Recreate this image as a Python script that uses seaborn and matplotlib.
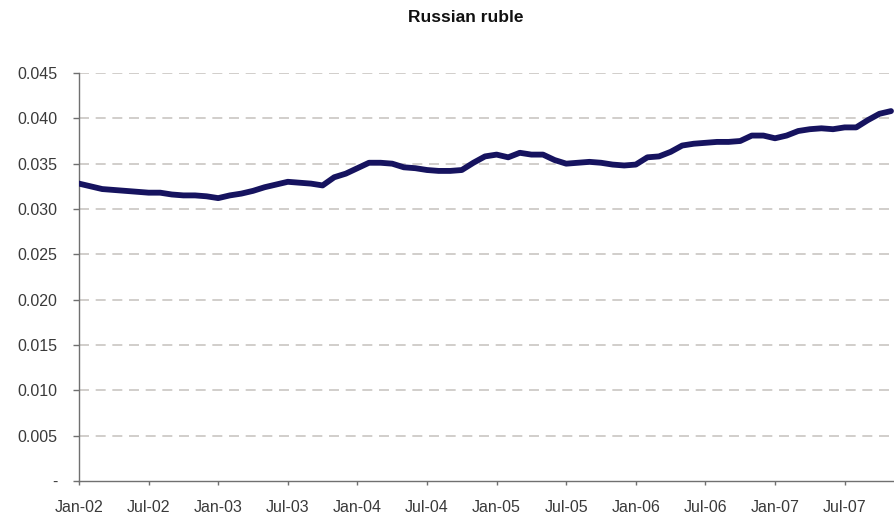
import matplotlib
matplotlib.use("Agg")
import matplotlib.pyplot as plt
import seaborn as sns
import pandas as pd
import numpy as np

title = "Russian ruble"
month_index = list(range(71))  # months since Jan-02
values = [
    0.0328, 0.0325, 0.0322, 0.0321, 0.0320, 0.0319, 0.0318, 0.0318, 0.0316, 0.0315,
    0.0315, 0.0314, 0.0312, 0.0315, 0.0317, 0.0320, 0.0324, 0.0327, 0.0330, 0.0329,
    0.0328, 0.0326, 0.0335, 0.0339, 0.0345, 0.0351, 0.0351, 0.0350, 0.0346, 0.0345,
    0.0343, 0.0342, 0.0342, 0.0343, 0.0351, 0.0358, 0.0360, 0.0357, 0.0362, 0.0360,
    0.0360, 0.0354, 0.0350, 0.0351, 0.0352, 0.0351, 0.0349, 0.0348, 0.0349, 0.0357,
    0.0358, 0.0363, 0.0370, 0.0372, 0.0373, 0.0374, 0.0374, 0.0375, 0.0381, 0.0381,
    0.0378, 0.0381, 0.0386, 0.0388, 0.0389, 0.0388, 0.0390, 0.0390, 0.0398, 0.0405,
    0.0408,
]
x_tick_pos = [0, 6, 12, 18, 24, 30, 36, 42, 48, 54, 60, 66]
x_tick_labels = ["Jan-02", "Jul-02", "Jan-03", "Jul-03", "Jan-04", "Jul-04",
                 "Jan-05", "Jul-05", "Jan-06", "Jul-06", "Jan-07", "Jul-07"]
y_tick_pos = [0, 0.005, 0.010, 0.015, 0.020, 0.025, 0.030, 0.035, 0.040, 0.045]
y_tick_labels = ["-", "0.005", "0.010", "0.015", "0.020", "0.025",
                 "0.030", "0.035", "0.040", "0.045"]

df = pd.DataFrame({"m": month_index, "v": values})

sns.set_theme(style="white")
plt.rcParams["font.family"] = ["Liberation Sans", "DejaVu Sans"]

W, H = 894, 522
fig = plt.figure(figsize=(W / 100, H / 100), dpi=100)
ax = fig.add_axes([79 / W, 1 - 481 / H, (W - 79) / W, (481 - 73) / H])

for yv in y_tick_pos[1:]:
    ax.axhline(yv, color="#cac6c2", lw=1.2, ls=(0, (6, 4)), zorder=1)

sns.lineplot(data=df, x="m", y="v", ax=ax, color="#16135f", lw=4.2,
             solid_capstyle="round", solid_joinstyle="round", zorder=3)

ax.set_xlim(0, (W - 79) / 11.6)
ax.set_ylim(0, 0.045)
ax.set_xticks(x_tick_pos)
ax.set_xticklabels(x_tick_labels)
ax.set_yticks(y_tick_pos)
ax.set_yticklabels(y_tick_labels)
ax.set_xlabel("")
ax.set_ylabel("")

for s in ["top", "right"]:
    ax.spines[s].set_visible(False)
for s in ["left", "bottom"]:
    ax.spines[s].set_color("#707070")
    ax.spines[s].set_linewidth(1.0)

ax.tick_params(axis="y", which="both", left=True, length=4.3, width=1, color="#707070",
               labelsize=11.5, labelcolor="#3a3a3a", pad=11, direction="out")
ax.tick_params(axis="x", which="both", bottom=True, length=3, width=1, color="#707070",
               labelsize=11.5, labelcolor="#3a3a3a", pad=11, direction="out")
ax.set_facecolor("white")
fig.patch.set_facecolor("white")

fig.text(466 / W, 1 - 18 / H, title, ha="center", va="center",
         fontsize=12.5, fontweight="bold", color="#111111")

fig.savefig("out.png", dpi=100)
